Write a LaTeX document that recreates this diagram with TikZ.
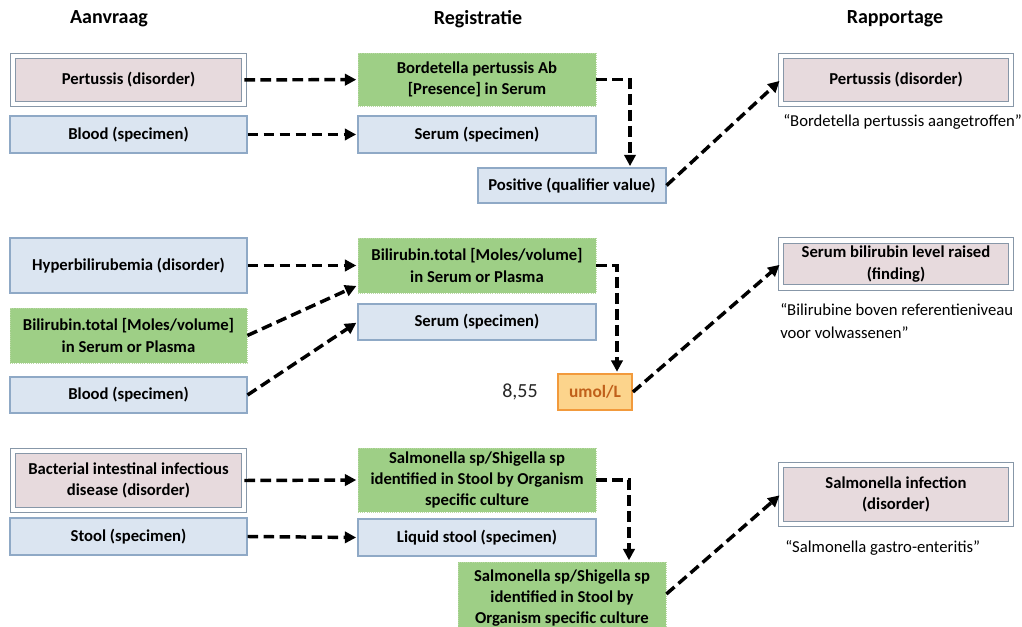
\documentclass[tikz,border=0pt]{standalone}
\usepackage{fontspec}
\setmainfont{Carlito}
\usetikzlibrary{arrows.meta,calc}

\definecolor{bluefill}{HTML}{DBE5F1}
\definecolor{blueline}{HTML}{8FA9C6}
\definecolor{greenfill}{HTML}{9ECF86}
\definecolor{greenline}{HTML}{B9D8A4}
\definecolor{pinkfill}{HTML}{E7DADD}
\definecolor{pinkline}{HTML}{8797A8}
\definecolor{orangefill}{HTML}{FCD48C}
\definecolor{orangeline}{HTML}{F29A3C}
\definecolor{orangetext}{HTML}{C0601A}

\tikzset{
  boxtext/.style={font=\fontsize{12.5}{16}\selectfont\bfseries, align=center, inner sep=0pt},
  sz/.style 2 args={minimum width=#1*0.75pt, minimum height=#2*0.75pt},
  bluebox/.style={boxtext, draw=blueline, fill=bluefill, line width=0.8pt},
  greenbox/.style={boxtext, draw=greenline, fill=greenfill, line width=0.6pt, densely dotted},
  pinkbox/.style={boxtext, draw=pinkline, fill=pinkfill, line width=0.7pt,
    double=white, double distance=3.6pt},
  unitbox/.style={boxtext, font=\fontsize{13}{15}\selectfont\bfseries, text=orangetext,
    draw=orangeline, fill=orangefill, line width=1.4pt},
  header/.style={font=\fontsize{15}{18}\selectfont\bfseries},
  quote/.style={font=\fontsize{12.5}{17}\selectfont, align=left, inner sep=0pt, anchor=west},
  link/.style={draw=black, line width=2.6pt, dash pattern=on 8pt off 4pt,
    -{Triangle[length=8.5pt,width=8.5pt]}, shorten >=1pt},
}

\begin{document}
\begin{tikzpicture}[x=0.75pt,y=-0.75pt]
\useasboundingbox (0,0) rectangle (1022,627);
\clip (0,0) rectangle (1022,627);

% column headings
\node[header] (hA) at (109,19) {Aanvraag};
\node[header] (hR) at (478,19) {Registratie};
\node[header] (hP) at (895,19) {Rapportage};

% ---- Pertussis ----
\node[pinkbox, sz={231}{48}] (a1) at (128.5,80) {Pertussis (disorder)};
\node[bluebox, sz={237}{37}] (a2) at (128.5,134.5) {Blood (specimen)};
\node[greenbox, sz={238}{53}] (r1) at (477,79.5) {Bordetella pertussis Ab\\{}[Presence] in Serum};
\node[bluebox, sz={238}{37}] (r2) at (477,134.5) {Serum (specimen)};
\node[bluebox, sz={188}{35}] (r3) at (572,185.5) {Positive (qualifier value)};
\node[pinkbox, sz={230}{48}] (p1) at (896,80) {Pertussis (disorder)};
\node[quote] (q1) at (783,122) {“Bordetella pertussis aangetroffen”};

\draw[link] (a1) -- (r1);
\draw[link] (a2) -- (r2);
\draw[link] (r1.east) -| ([xshift=43.5pt]r3.north);
\draw[link] (r3.east) -- (p1.west);

% ---- Bilirubin ----
\node[bluebox, sz={237}{55}] (a4) at (128.5,265.5) {Hyperbilirubemia (disorder)};
\node[greenbox, sz={237}{55}] (a5) at (128.5,335.5) {Bilirubin.total [Moles/volume]\\in Serum or Plasma};
\node[bluebox, sz={237}{36}] (a6) at (128.5,395) {Blood (specimen)};
\node[greenbox, sz={238}{55}] (r4) at (477,265.5) {Bilirubin.total [Moles/volume]\\in Serum or Plasma};
\node[bluebox, sz={238}{36}] (r5) at (477,322) {Serum (specimen)};
\node[unitbox, sz={74}{36}] (r6) at (595,392) {umol/L};
\node[font=\fontsize{15}{18}\selectfont, text=black!85] (v6) at (520,392) {8,55};
\node[pinkbox, sz={230}{47}] (p2) at (896,264) {Serum bilirubin level raised\\(finding)};
\node[quote] (q2) at (780,321) {“Bilirubine boven referentieniveau\\voor volwassenen”};

\draw[link] (a4.east) -- (r4.west);
\draw[link] (a5.east) -- ([yshift=6pt]r4.south west);
\draw[link] (a6.east) -- (r5.west);
\draw[link] (r4.east) -| ([xshift=16.5pt]r6.north);
\draw[link] (r6.east) -- (p2.west);

% ---- Salmonella ----
\node[pinkbox, sz={231}{59}] (a7) at (128.5,480.5) {Bacterial intestinal infectious\\disease (disorder)};
\node[bluebox, sz={237}{37}] (a8) at (128.5,536.5) {Stool (specimen)};
\node[greenbox, sz={238}{64}] (r7) at (477,480) {Salmonella sp/Shigella sp\\identified in Stool by Organism\\specific culture};
\node[bluebox, sz={238}{37}] (r8) at (477,537.5) {Liquid stool (specimen)};
\node[greenbox, sz={208}{72}] (r9) at (562,598) {Salmonella sp/Shigella sp\\identified in Stool by\\Organism specific culture};
\node[pinkbox, sz={230}{59}] (p3) at (896,494.5) {Salmonella infection\\(disorder)};
\node[quote] (q3) at (785,548) {“Salmonella gastro-enteritis”};

\draw[link] (a7.east) -- (r7.west);
\draw[link] (a8.east) -- (r8.west);
\draw[link] (r7.east) -| ([xshift=50.25pt]r9.north);
\draw[link] ([yshift=3pt]r9.east) -- (p3.west);
\end{tikzpicture}
\end{document}
